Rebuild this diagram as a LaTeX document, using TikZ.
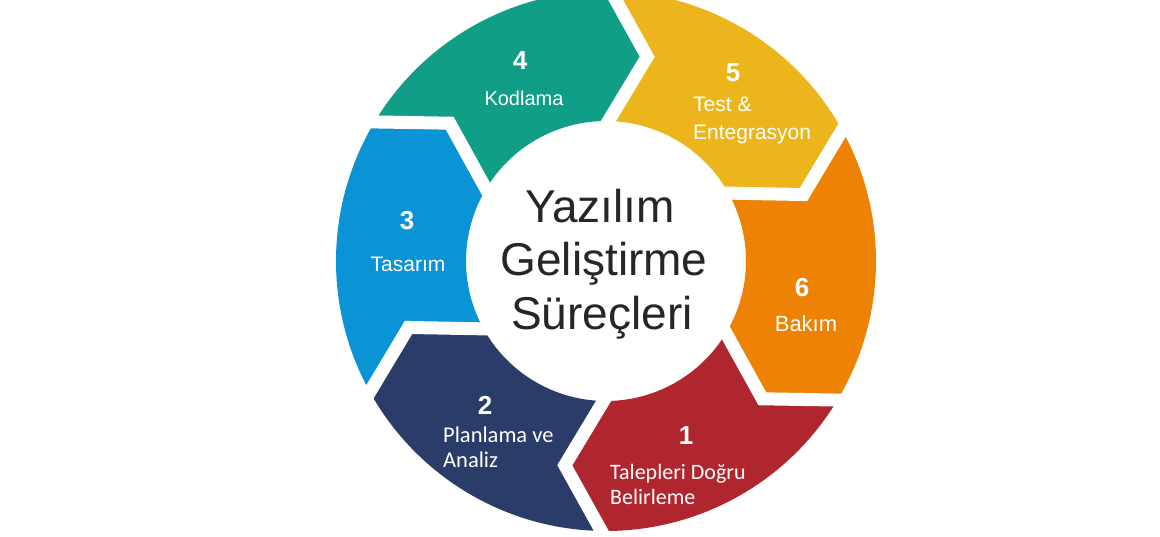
\documentclass[tikz,border=0pt]{standalone}
\usepackage{fontspec}
\setmainfont{Liberation Sans}
\newfontfamily\carlfont{Carlito}
\usetikzlibrary{calc}
\definecolor{cRed}{RGB}{176,38,46}
\definecolor{cNavy}{RGB}{42,60,104}
\definecolor{cBlue}{RGB}{10,148,214}
\definecolor{cTeal}{RGB}{16,158,135}
\definecolor{cYellow}{RGB}{237,181,28}
\definecolor{cOrange}{RGB}{238,130,4}
\definecolor{cText}{RGB}{38,38,38}
\newcommand\ringseg[3]{%
  \fill[#3] (#1:270) arc[start angle=#1, end angle=#2, radius=270pt]
    -- ({#2-10.4}:208.4) -- (#2:140)
    arc[start angle=#2, end angle=#1, radius=140pt]
    -- ({#1-10.4}:208.4) -- cycle;}
\newcommand\ringgap[1]{%
  \draw[gapline] ($({#1-10.4}:208.4)!1.5!(#1:270)$) -- ({#1-10.4}:208.4)
    -- ($({#1-10.4}:208.4)!1.6!(#1:140)$);}
\tikzset{
  gapline/.style={white, line width=13pt, line join=miter, line cap=butt},
  numlbl/.style={text=white, font=\bfseries\fontsize{26}{30}\selectfont, anchor=base, inner sep=0pt},
  arlbl/.style={text=white, font=\fontsize{21}{25}\selectfont, inner sep=0pt},
  calbl/.style={text=white, font=\carlfont\fontsize{22.5}{25}\selectfont, inner sep=0pt},
  ctrlbl/.style={text=cText, font=\fontsize{46}{53}\selectfont, anchor=base, inner sep=0pt}
}
\begin{document}
\begin{tikzpicture}[x=1pt,y=1pt]
\useasboundingbox (0,0) rectangle (1160,537);
\clip (0,0) rectangle (1160,537);
\fill[white] (0,0) rectangle (1160,537);
\begin{scope}[shift={(606,276)}]
  \ringseg{149}{89}{cTeal}
  \ringseg{89}{29}{cYellow}
  \ringseg{29}{-31}{cOrange}
  \ringseg{-31}{-91}{cRed}
  \ringseg{269}{209}{cNavy}
  \ringseg{209}{149}{cBlue}
  \ringgap{89}
  \ringgap{29}
  \ringgap{-31}
  \ringgap{-91}
  \ringgap{209}
  \ringgap{149}
\end{scope}
% numbers
\node[numlbl] (n4) at (520,467) {4};
\node[numlbl] (n5) at (733,455) {5};
\node[numlbl] (n3) at (407,307) {3};
\node[numlbl] (n6) at (802,240) {6};
\node[numlbl] (n2) at (485,122) {2};
\node[numlbl] (n1) at (686,92) {1};
% labels
\node[arlbl, anchor=base, font=\fontsize{20}{24}\selectfont] (l4) at (524,431) {Kodlama};
\node[arlbl, anchor=base west] (l5a) at (693,425) {Test \&};
\node[arlbl, anchor=base west] (l5b) at (693,397) {Entegrasyon};
\node[arlbl, anchor=base] (l3) at (408,265) {Tasarım};
\node[arlbl, anchor=base, font=\fontsize{22}{26}\selectfont] (l6) at (806,205) {Bakım};
\node[calbl, anchor=base west] (l2a) at (443,94) {Planlama ve};
\node[calbl, anchor=base west] (l2b) at (443,69) {Analiz};
\node[calbl, anchor=base west, font=\carlfont\fontsize{22}{25}\selectfont] (l1a) at (610,57) {Talepleri Doğru};
\node[calbl, anchor=base west, font=\carlfont\fontsize{22}{25}\selectfont] (l1b) at (610,32) {Belirleme};
% centre
\node[ctrlbl] (c1) at (600,314) {Yazılım};
\node[ctrlbl] (c2) at (604,261) {Geliştirme};
\node[ctrlbl] (c3) at (602,207) {Süreçleri};
\end{tikzpicture}
\end{document}
